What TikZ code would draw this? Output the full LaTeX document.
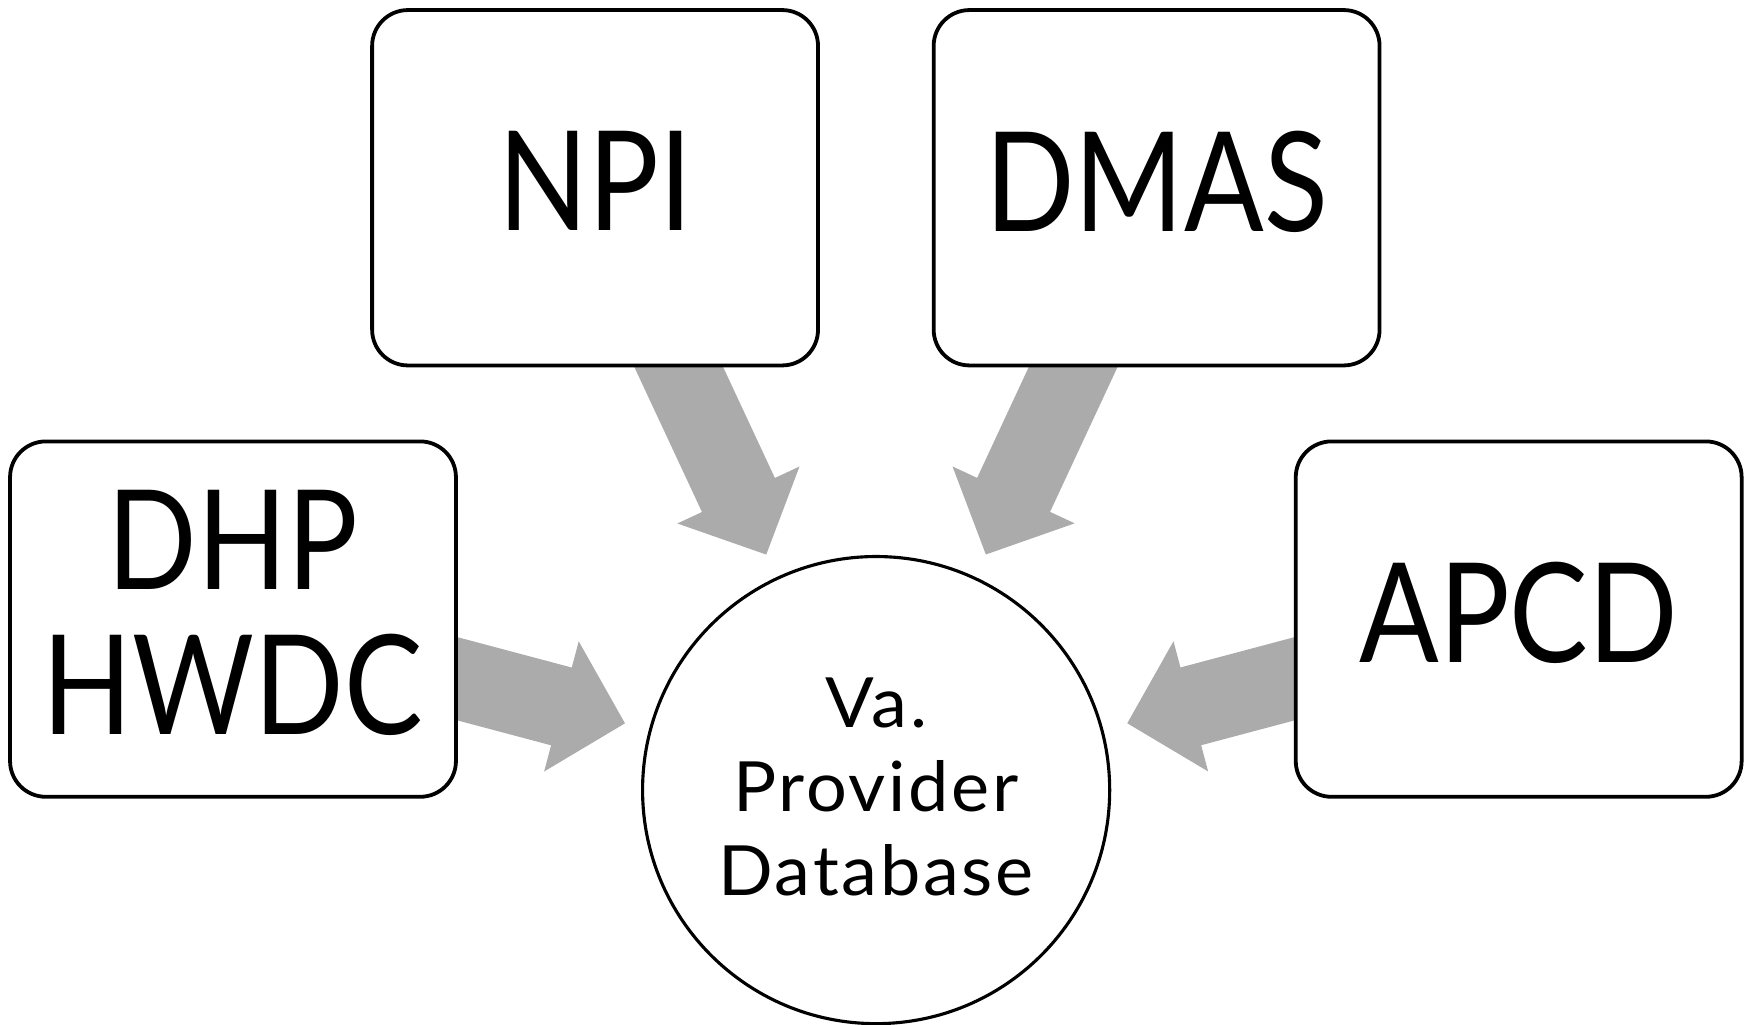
\documentclass[tikz,border=0pt]{standalone}
\usepackage{fontspec}
\setmainfont{Lato}
\newfontfamily\srcfont[FakeStretch=0.85]{Lato}
\newfontfamily\hubfont[FakeStretch=1.04, LetterSpace=4]{Lato}
\usetikzlibrary{arrows.meta, backgrounds, positioning}

\begin{document}
\begin{tikzpicture}[x=0.5pt, y=-0.5pt,
    src/.style={draw, fill=white, line width=1.7pt, rounded corners=16pt,
      minimum width=199.5pt, minimum height=159pt, inner sep=0pt,
      text depth=6pt, align=center, font=\srcfont\fontsize{62}{65}\selectfont},
    hub/.style={draw, fill=white, circle, line width=1.4pt, minimum size=209pt,
      inner sep=0pt, text depth=3pt, align=center,
      font=\hubfont\fontsize{31}{37.5}\selectfont},
    feed/.style={draw=black!33, line width=36pt, shorten >=11pt,
      -{Triangle[length=29.5pt, width=58.5pt]}}]
    % fixed page size
    \useasboundingbox (0,0) rectangle (1566,917);

    \node[src] (npi) at (532.5,168) {NPI};
    \node[src] (dmas) at (1035,168) {DMAS};
    \node[src] (dhp) at (208.5,554) {DHP\\HWDC};
    \node[src] (apcd) at (1359,554) {APCD};
    \node[hub] (db) at (784,707) {Va.\\Provider\\Database};

    \begin{scope}[on background layer]
        \draw[feed] (npi.center) -- (db);
        \draw[feed] (dmas.center) -- (db);
        \draw[feed] (dhp.center) -- (db);
        \draw[feed] (apcd.center) -- (db);
    \end{scope}
\end{tikzpicture}
\end{document}
